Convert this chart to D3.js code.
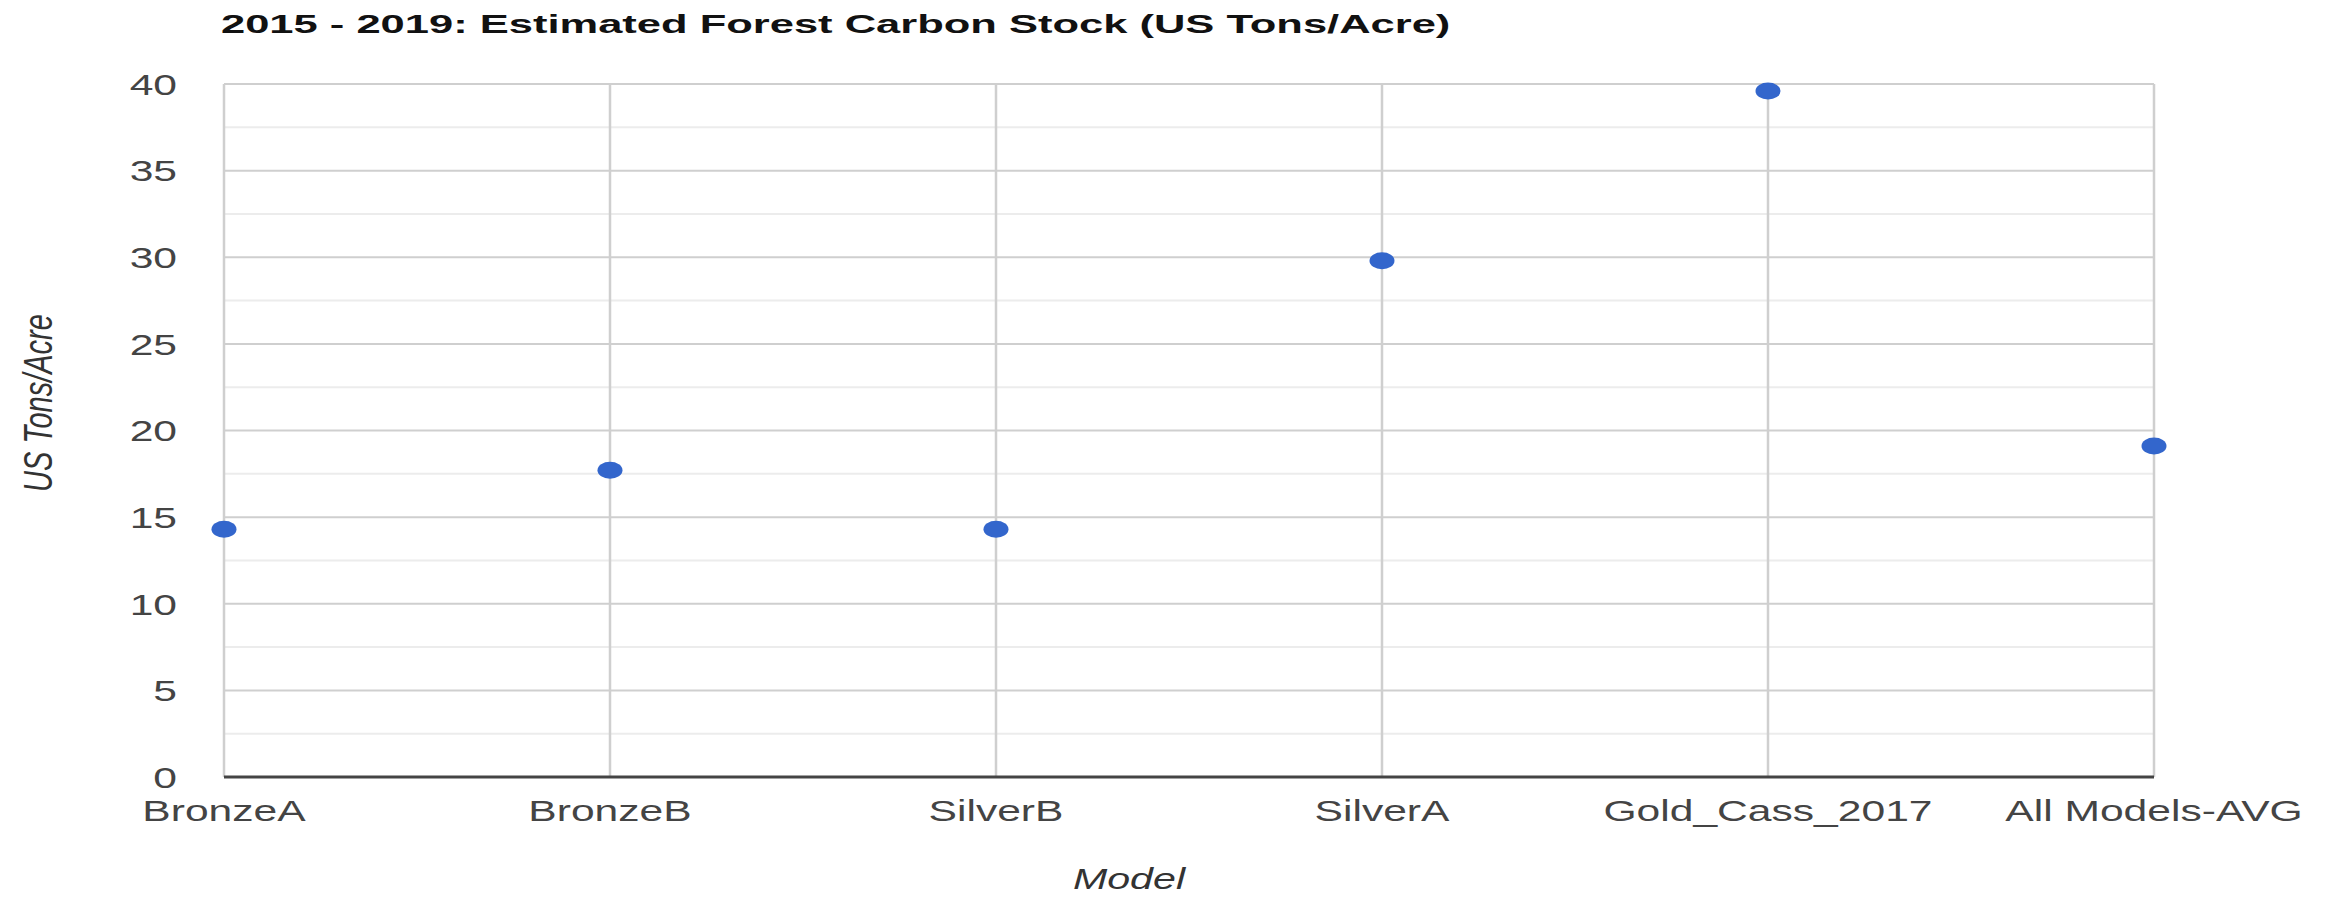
<!DOCTYPE html>
<html>
<head>
<meta charset="utf-8">
<script src="https://cdn.jsdelivr.net/npm/d3@7"></script>
<style>
  body { margin: 0; background: #fff; }
  svg { display: block; font-family: Arial, "Liberation Sans", sans-serif; }
</style>
</head>
<body>
<div class="carbon-plot"></div>
<script>
// chart values
const models = ['BronzeA', 'BronzeB', 'SilverB', 'SilverA', 'Gold_Cass_2017', 'All Models-AVG'];
const tonsPerAcre = [14.3, 17.7, 14.3, 29.8, 39.6, 19.1];
const yTicks = [0, 5, 10, 15, 20, 25, 30, 35, 40];
const yMinorTicks = [2.5, 7.5, 12.5, 17.5, 22.5, 27.5, 32.5, 37.5];
const titleText = '2015 - 2019: Estimated Forest Carbon Stock (US Tons/Acre)';

const width = 2338;
const height = 899;
// the source picture is stretched sideways, so text gets squeezed out a bit
const stretch = 1.42;

const svg = d3.select('.carbon-plot').append('svg')
  .attr('width', width)
  .attr('height', height);

const x = d3.scalePoint()
  .domain(models)
  .range([224, 2154]);

const y = d3.scaleLinear()
  .domain([0, 40])
  .range([777, 84]);

// minor grid
svg.selectAll('.minor')
  .data(yMinorTicks)
  .enter()
  .append('line')
  .attr('x1', x.range()[0])
  .attr('x2', x.range()[1])
  .attr('y1', d => y(d))
  .attr('y2', d => y(d))
  .attr('stroke', '#ececec')
  .attr('stroke-width', 2);

// major grid
svg.selectAll('.major')
  .data(yTicks.filter(d => d !== 0))
  .enter()
  .append('line')
  .attr('x1', x.range()[0])
  .attr('x2', x.range()[1])
  .attr('y1', d => y(d))
  .attr('y2', d => y(d))
  .attr('stroke', '#cfcfcf')
  .attr('stroke-width', 2);

// vertical grid, one per model
svg.selectAll('.vgrid')
  .data(models)
  .enter()
  .append('line')
  .attr('x1', d => x(d))
  .attr('x2', d => x(d))
  .attr('y1', y(40))
  .attr('y2', y(0))
  .attr('stroke', '#cfcfcf')
  .attr('stroke-width', 2.5);

// baseline
svg.append('line')
  .attr('x1', x.range()[0])
  .attr('x2', x.range()[1])
  .attr('y1', y(0))
  .attr('y2', y(0))
  .attr('stroke', '#444')
  .attr('stroke-width', 3);

// y tick labels
svg.selectAll('.ytick')
  .data(yTicks)
  .enter()
  .append('text')
  .attr('transform', d => `translate(177,${y(d)}) scale(${stretch},1)`)
  .attr('dy', '0.36em')
  .attr('text-anchor', 'end')
  .attr('font-size', 30)
  .attr('fill', '#444')
  .text(d => d);

// x tick labels
svg.selectAll('.xtick')
  .data(models)
  .enter()
  .append('text')
  .attr('transform', d => `translate(${x(d)},821) scale(${stretch},1)`)
  .attr('text-anchor', 'middle')
  .attr('font-size', 30)
  .attr('fill', '#444')
  .text(d => d);

// points
svg.selectAll('ellipse')
  .data(models)
  .enter()
  .append('ellipse')
  .attr('cx', d => x(d))
  .attr('cy', (d, i) => y(tonsPerAcre[i]))
  .attr('rx', 12.5)
  .attr('ry', 8.5)
  .attr('fill', '#3366cc');

// title
svg.append('text')
  .attr('transform', 'translate(221,33) scale(1.74,1)')
  .attr('font-size', 25)
  .attr('font-weight', 'bold')
  .attr('fill', '#111')
  .text(titleText);

// axis titles
svg.append('text')
  .attr('transform', `translate(1129,889) scale(${stretch},1)`)
  .attr('text-anchor', 'middle')
  .attr('font-size', 29)
  .attr('font-style', 'italic')
  .attr('fill', '#333')
  .text('Model');

svg.append('text')
  .attr('transform', `translate(52,403) scale(${stretch},1) rotate(-90)`)
  .attr('text-anchor', 'middle')
  .attr('font-size', 29)
  .attr('font-style', 'italic')
  .attr('fill', '#333')
  .text('US Tons/Acre');
</script>
</body>
</html>
